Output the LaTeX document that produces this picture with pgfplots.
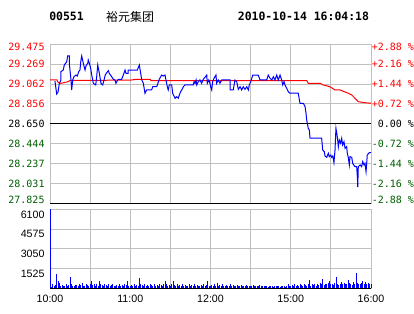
\documentclass[border=0pt]{standalone}
\usepackage{pgfplots}
\pgfplotsset{compat=1.18}
\usepackage{fontspec}
\setmainfont{Liberation Sans}
\newfontfamily\monofont{DejaVu Sans Mono}
\newfontfamily\cjk{Noto Sans CJK SC}
\definecolor{gridgray}{RGB}{192,192,192}
\definecolor{dgreen}{RGB}{0,96,0}
\newcommand{\up}[1]{\raisebox{-2.2pt}[\height][\depth]{#1}}
\newcommand{\dn}[1]{\raisebox{2.2pt}[\height][\depth]{#1}}
\begin{document}
\begin{tikzpicture}
\useasboundingbox[fill=white] (0,0) rectangle (310.5pt,235.5pt);
% header
\node[font=\monofont\bfseries\fontsize{8.6}{9}\selectfont] at (49.9pt,223.1pt) {00551};
\node[font=\cjk\fontsize{9}{10}\selectfont] at (97.5pt,223.1pt) {裕元集团};
\node[font=\monofont\bfseries\fontsize{8.6}{9}\selectfont] at (227.6pt,223.1pt) {2010-10-14 16:04:18};
% main price panel
\begin{axis}[
  at={(37.5pt,83.03pt)}, anchor=south west,
  scale only axis, width=240.75pt, height=119.25pt,
  xmin=0, xmax=240, ymin=27.825, ymax=29.475,
  clip=false,
  axis line style={draw=gridgray, line width=0.75pt},
  grid=major, grid style={draw=gridgray, line width=0.75pt},
  major tick length=0pt,
  xtick={0,30,...,240}, xticklabels={},
  ytick={27.825,28.031,28.237,28.444,28.650,28.856,29.062,29.269,29.475},
  yticklabels={\textcolor{dgreen}{\dn{27.825}},\textcolor{dgreen}{28.031},\textcolor{dgreen}{28.237},\textcolor{dgreen}{28.444},\textcolor{black}{28.650},\textcolor{red}{28.856},\textcolor{red}{29.062},\textcolor{red}{29.269},\textcolor{red}{\up{29.475}}},
  yticklabel style={font=\monofont\fontsize{7.5}{8}\selectfont, anchor=east, inner sep=0pt, xshift=-3.9pt},
]
\addplot[black, line width=0.75pt] coordinates {(0,28.65) (240,28.65)};
\addplot[black, line width=0.75pt] coordinates {(0,27.825) (240,27.825)};
% average price line
\addplot[red, line width=0.75pt] coordinates {
(0,29.105) (5.2,29.105) (6.0,29.080) (8.2,29.070) (13.5,29.087) (15,29.100) (60,29.103)
(65,29.112) (75,29.112) (75.5,29.098) (192,29.098) (193.1,29.070) (201.9,29.070)
(204.3,29.053) (209.3,29.035) (213.1,29.001) (216.8,29.001) (223.0,28.967) (225.6,28.949)
(228.0,28.915) (230.5,28.879) (235.5,28.869) (240,28.863)};
% price line
\addplot[blue, line width=0.75pt] coordinates {
(3.7,29.094) (5.0,28.959) (6.0,28.980) (7.0,29.070) (8.2,29.105) (8.2,29.191) (9.9,29.208)
(10.7,29.260) (12.5,29.294) (13.2,29.354) (14.4,29.354) (14.4,29.278) (15.7,29.105) (16.2,29.001)
(17.0,29.105) (17.9,29.139) (19.4,29.156) (20.4,29.146) (21.5,29.191) (22.4,29.208) (23.0,29.294)
(23.7,29.354) (24.9,29.278) (26.2,29.208) (26.9,29.250) (28.2,29.278) (28.6,29.312) (29.4,29.278)
(30.4,29.226) (31.2,29.156) (32.4,29.070) (34.2,29.053) (34.9,29.139) (35.7,29.260) (36.9,29.174)
(38.1,29.070) (39.4,29.053) (40.4,29.105) (41.3,29.156) (42.4,29.180) (43.6,29.201) (44.3,29.174)
(46.1,29.139) (47.3,29.112) (48.6,29.105) (49.3,29.070) (49.9,29.087) (51.1,29.112) (53.6,29.112)
(54.8,29.156) (56.1,29.208) (56.8,29.174) (58.5,29.174) (58.5,29.208) (65.3,29.208) (66.8,29.260)
(68.6,29.105) (69.8,29.070) (71.0,28.967) (72.3,29.001) (76.0,29.001) (76.8,29.035) (79.8,29.035)
(81.7,29.112) (83.5,29.156) (84.7,29.146) (86.0,29.156) (86.7,29.105) (87.7,29.035) (88.4,29.001)
(89.2,29.053) (91.0,29.053) (91.7,28.967) (93.5,28.915) (94.7,28.931) (95.9,28.915) (96.7,28.949)
(97.7,28.983) (98.5,29.001) (99.7,29.035) (100.9,29.053) (107.1,29.053) (107.7,29.087) (108.4,29.070)
(109.2,29.105) (109.7,29.053) (110.9,29.087) (112.1,29.105) (113.4,29.070) (114.6,29.112) (115.9,29.133)
(117.2,29.156) (117.6,29.070) (118.7,29.105) (119.6,29.070) (120.1,29.035) (120.9,29.001) (121.6,29.087)
(122.6,29.122) (124.1,29.156) (124.6,29.070) (125.8,29.105) (127.1,29.070) (128.4,29.105) (134.6,29.105)
(134.6,29.001) (137.0,29.001) (138.3,29.105) (139.6,29.087) (140.8,29.008) (142.1,29.035) (143.3,29.001)
(144.5,29.035) (145.8,29.008) (147.1,29.035) (148.3,29.001) (149.0,29.053) (150.1,29.087) (151.6,29.156)
(155.7,29.156) (157.0,29.105) (162.0,29.105) (163.2,29.156) (164.5,29.122) (165.8,29.105) (167.0,29.139)
(168.2,29.105) (169.5,29.156) (170.7,29.105) (172.0,29.156) (173.2,29.105) (174.0,29.053) (175.0,29.087)
(175.7,29.053) (177.0,29.018) (178.2,28.983) (179.4,28.967) (185.6,28.967) (186.9,28.863) (189.4,28.863)
(190.7,28.828) (191.4,28.762) (191.9,28.690) (193.1,28.603) (193.9,28.586) (194.4,28.500) (203.1,28.500)
(203.9,28.378) (205.1,28.361) (205.6,28.316) (206.9,28.302) (208.1,28.344) (208.8,28.309) (209.9,28.326)
(210.6,28.302) (211.4,28.316) (212.3,28.246) (213.1,28.378) (213.8,28.603) (214.8,28.516) (215.6,28.412)
(216.3,28.482) (217.3,28.448) (218.1,28.500) (218.8,28.430) (219.8,28.464) (220.6,28.396) (221.8,28.412)
(222.3,28.344) (223.0,28.302) (223.8,28.223) (224.3,28.309) (225.6,28.302) (226.3,28.240) (228.0,28.205)
(229.3,28.205) (229.8,28.101) (230.1,27.994) (230.5,28.205) (231.8,28.223) (233.0,28.205) (233.8,28.257)
(234.8,28.223) (235.5,28.240) (236.3,28.153) (236.8,28.243) (237.2,28.326) (238.7,28.350) (240,28.350)};
\end{axis}
% right percentage labels
\begin{axis}[
  at={(37.5pt,83.03pt)}, anchor=south west,
  scale only axis, width=240.75pt, height=119.25pt,
  xmin=0, xmax=240, ymin=-2.88, ymax=2.88,
  axis y line*=right, axis x line=none,
  axis line style={draw=gridgray, line width=0.75pt},
  major tick length=0pt,
  ytick={-2.88,-2.16,-1.44,-0.72,0,0.72,1.44,2.16,2.88},
  yticklabels={\textcolor{dgreen}{\dn{-2.88 \%}},\textcolor{dgreen}{-2.16 \%},\textcolor{dgreen}{-1.44 \%},\textcolor{dgreen}{-0.72 \%},\textcolor{black}{\ 0.00 \%},\textcolor{red}{+0.72 \%},\textcolor{red}{+1.44 \%},\textcolor{red}{+2.16 \%},\textcolor{red}{\up{+2.88 \%}}},
  yticklabel style={font=\monofont\fontsize{7.5}{8}\selectfont, anchor=west, inner sep=0pt, xshift=0.4pt},
]
\addplot[draw=none] coordinates {(0,0) (240,0)};
\end{axis}
% volume panel
\begin{axis}[
  at={(37.5pt,19.28pt)}, anchor=south west,
  scale only axis, width=240.75pt, height=59.25pt,
  xmin=0, xmax=240, ymin=0, ymax=6100,
  clip=false,
  axis line style={draw=gridgray, line width=0.75pt},
  grid=major, grid style={draw=gridgray, line width=0.75pt},
  major tick length=0pt,
  xtick={0,30,...,240}, xticklabels={10:00,,11:00,,12:00,,15:00,,16:00},
  xticklabel style={font=\fontsize{8}{9}\selectfont, anchor=north, inner sep=0pt, yshift=-4.5pt},
  ytick={1525,3050,4575,6100}, yticklabels={1525,3050,4575,6100},
  yticklabel style={font=\fontsize{8}{9}\selectfont, anchor=north east, inner sep=0pt, xshift=-3.9pt, yshift=-1pt},
]
\addplot[ycomb, blue, line width=0.75pt, mark=none] table[row sep=\\] {
x y\\
0 6100\\ 1 120\\ 2 300\\ 3 150\\ 4 250\\ 5 1100\\ 6 600\\ 7 380\\ 8 180\\ 9 260\\ 10 150\\
11 200\\ 12 300\\ 13 180\\ 14 250\\ 15 850\\ 16 320\\ 17 200\\ 18 150\\ 19 280\\ 20 220\\
21 180\\ 22 300\\ 23 250\\ 24 400\\ 25 200\\ 26 150\\ 27 350\\ 28 250\\ 29 180\\ 30 300\\
31 560\\ 32 250\\ 33 300\\ 34 180\\ 35 350\\ 36 200\\ 37 560\\ 38 300\\ 39 250\\ 40 180\\
41 300\\ 42 250\\ 43 200\\ 44 350\\ 45 180\\ 46 250\\ 47 300\\ 48 200\\ 49 150\\ 50 250\\
51 200\\ 52 300\\ 53 180\\ 54 250\\ 55 200\\ 56 300\\ 57 250\\ 58 560\\ 59 200\\ 60 150\\
61 250\\ 62 200\\ 63 300\\ 64 180\\ 65 250\\ 66 200\\ 67 760\\ 68 300\\ 69 250\\ 70 200\\
71 300\\ 72 180\\ 73 250\\ 74 200\\ 75 300\\ 76 250\\ 77 180\\ 78 300\\ 79 200\\ 80 250\\
81 180\\ 82 300\\ 83 250\\ 84 200\\ 85 350\\ 86 560\\ 87 300\\ 88 200\\ 89 250\\ 90 180\\
91 300\\ 92 560\\ 93 250\\ 94 200\\ 95 300\\ 96 180\\ 97 250\\ 98 200\\ 99 300\\ 100 150\\
101 250\\ 102 200\\ 103 180\\ 104 300\\ 105 200\\ 106 250\\ 107 150\\ 108 300\\ 109 200\\ 110 250\\
111 180\\ 112 200\\ 113 250\\ 114 150\\ 115 300\\ 116 200\\ 117 250\\ 118 550\\ 119 200\\ 120 180\\
121 250\\ 122 200\\ 123 300\\ 124 180\\ 125 400\\ 126 200\\ 127 250\\ 128 150\\ 129 300\\ 130 200\\
131 180\\ 132 250\\ 133 200\\ 134 150\\ 135 300\\ 136 200\\ 137 250\\ 138 180\\ 139 200\\ 140 250\\
141 150\\ 142 200\\ 143 250\\ 144 180\\ 145 200\\ 146 150\\ 147 250\\ 148 200\\ 149 180\\ 150 150\\
151 200\\ 152 250\\ 153 150\\ 154 180\\ 155 200\\ 156 150\\ 157 250\\ 158 180\\ 159 150\\ 160 200\\
161 150\\ 162 180\\ 163 120\\ 164 200\\ 165 150\\ 166 180\\ 167 120\\ 168 200\\ 169 150\\ 170 180\\
171 150\\ 172 120\\ 173 180\\ 174 150\\ 175 200\\ 176 120\\ 177 180\\ 178 300\\ 179 150\\ 180 200\\
181 250\\ 182 180\\ 183 300\\ 184 200\\ 185 250\\ 186 200\\ 187 300\\ 188 250\\ 189 180\\ 190 300\\
191 250\\ 192 200\\ 193 350\\ 194 660\\ 195 200\\ 196 300\\ 197 250\\ 198 350\\ 199 200\\ 200 300\\
201 250\\ 202 400\\ 203 300\\ 204 700\\ 205 250\\ 206 350\\ 207 300\\ 208 400\\ 209 560\\ 210 300\\
211 350\\ 212 250\\ 213 400\\ 214 850\\ 215 300\\ 216 250\\ 217 350\\ 218 500\\ 219 300\\ 220 400\\
221 300\\ 222 350\\ 223 650\\ 224 400\\ 225 300\\ 226 250\\ 227 450\\ 228 350\\ 229 1200\\ 230 400\\
231 350\\ 232 300\\ 233 400\\ 234 550\\ 235 300\\ 236 500\\ 237 350\\ 238 400\\ 239 300\\ 240 350\\
};
\addplot[black, line width=0.75pt] coordinates {(0,0) (240,0)};
\end{axis}
\end{tikzpicture}
\end{document}
